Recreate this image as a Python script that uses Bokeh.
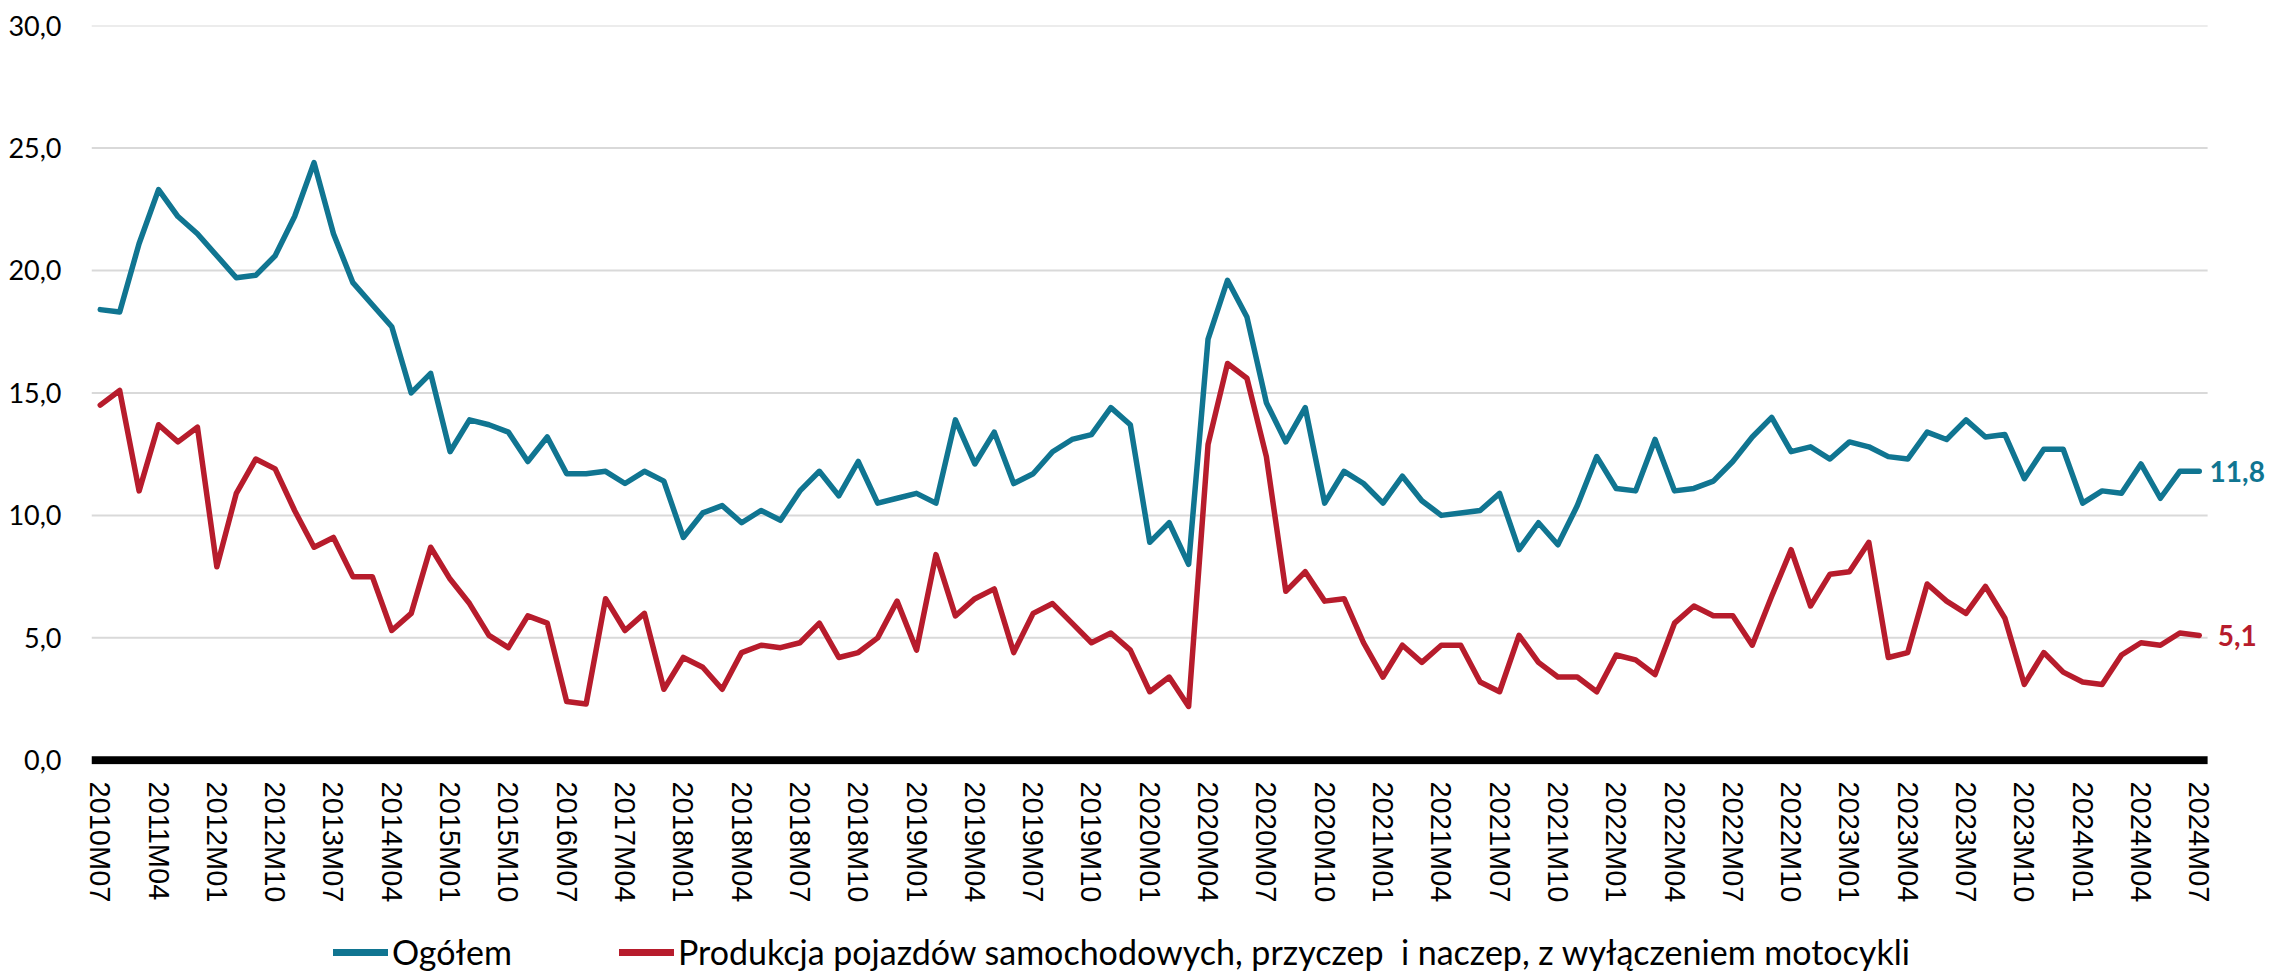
from bokeh.plotting import figure
from bokeh.layouts import column
from bokeh.models import Range1d, FixedTicker, Legend, LegendItem, ColumnDataSource
from bokeh.embed import file_html
from bokeh.resources import INLINE

# ---- data -------------------------------------------------------------
quarterly_periods = [f"{y}M{m:02d}" for y in range(2010, 2018) for m in (1, 4, 7, 10)
                     if not (y == 2010 and m < 7)]
monthly_periods = [f"{y}M{m:02d}" for y in range(2018, 2025) for m in range(1, 13)
                   if not (y == 2024 and m > 7)]
periods = quarterly_periods + monthly_periods

ogolem = [
    18.4, 18.3, 21.1, 23.3, 22.2, 21.5, 20.6, 19.7, 19.8, 20.6,
    22.2, 24.4, 21.5, 19.5, 18.6, 17.7, 15.0, 15.8, 12.6, 13.9,
    13.7, 13.4, 12.2, 13.2, 11.7, 11.7, 11.8, 11.3, 11.8, 11.4,
    9.1, 10.1, 10.4, 9.7, 10.2, 9.8, 11.0, 11.8, 10.8, 12.2,
    10.5, 10.7, 10.9, 10.5, 13.9, 12.1, 13.4, 11.3, 11.7, 12.6,
    13.1, 13.3, 14.4, 13.7, 8.9, 9.7, 8.0, 17.2, 19.6, 18.1,
    14.6, 13.0, 14.4, 10.5, 11.8, 11.3, 10.5, 11.6, 10.6, 10.0,
    10.1, 10.2, 10.9, 8.6, 9.7, 8.8, 10.4, 12.4, 11.1, 11.0,
    13.1, 11.0, 11.1, 11.4, 12.2, 13.2, 14.0, 12.6, 12.8, 12.3,
    13.0, 12.8, 12.4, 12.3, 13.4, 13.1, 13.9, 13.2, 13.3, 11.5,
    12.7, 12.7, 10.5, 11.0, 10.9, 12.1, 10.7, 11.8, 11.8,
]
pojazdy = [
    14.5, 15.1, 11.0, 13.7, 13.0, 13.6, 7.9, 10.9, 12.3, 11.9,
    10.2, 8.7, 9.1, 7.5, 7.5, 5.3, 6.0, 8.7, 7.4, 6.4,
    5.1, 4.6, 5.9, 5.6, 2.4, 2.3, 6.6, 5.3, 6.0, 2.9,
    4.2, 3.8, 2.9, 4.4, 4.7, 4.6, 4.8, 5.6, 4.2, 4.4,
    5.0, 6.5, 4.5, 8.4, 5.9, 6.6, 7.0, 4.4, 6.0, 6.4,
    5.6, 4.8, 5.2, 4.5, 2.8, 3.4, 2.2, 12.9, 16.2, 15.6,
    12.4, 6.9, 7.7, 6.5, 6.6, 4.8, 3.4, 4.7, 4.0, 4.7,
    4.7, 3.2, 2.8, 5.1, 4.0, 3.4, 3.4, 2.8, 4.3, 4.1,
    3.5, 5.6, 6.3, 5.9, 5.9, 4.7, 6.7, 8.6, 6.3, 7.6,
    7.7, 8.9, 4.2, 4.4, 7.2, 6.5, 6.0, 7.1, 5.8, 3.1,
    4.4, 3.6, 3.2, 3.1, 4.3, 4.8, 4.7, 5.2, 5.1,
]
series_names = ["Ogółem",
                "Produkcja pojazdów samochodowych, przyczep  i naczep, z wyłączeniem motocykli"]
y_ticks = [0, 5, 10, 15, 20, 25, 30]
y_tick_labels = ["0,0", "5,0", "10,0", "15,0", "20,0", "25,0", "30,0"]
x_tick_step = 3

BLUE = "#107591"
RED = "#B71C2C"

# ---- layout constants ---------------------------------------------------
n = len(periods)
X_LEFT = -0.45               # left edge of the plotting area (category units)
X_RIGHT = n - 1 + 0.43       # right edge of gridlines / zero line
X_END = n - 1 + 3.46         # extra room on the right for end labels
Y_BOTTOM = -0.17             # keeps the thick zero line un-clipped

idx = list(range(n))
src = ColumnDataSource(dict(x=idx, a=ogolem, b=pojazdy))

p = figure(frame_width=2175, frame_height=739, output_backend="svg", toolbar_location=None,
           x_range=Range1d(X_LEFT, X_END), y_range=Range1d(Y_BOTTOM, 30),
           min_border_left=91, min_border_right=0, min_border_top=25, min_border_bottom=140)
p.outline_line_color = None
p.background_fill_color = "white"
p.border_fill_color = "white"
p.xgrid.visible = False
p.ygrid.visible = False

# horizontal gridlines drawn only across the plotting area
p.segment(x0=[X_LEFT] * (len(y_ticks) - 1), x1=[X_RIGHT] * (len(y_ticks) - 1),
          y0=y_ticks[1:], y1=y_ticks[1:], line_color="#d9d9d9", line_width=2)
# thick zero line
p.segment(x0=[X_LEFT], x1=[X_RIGHT], y0=[0], y1=[0], line_color="black", line_width=8)

# y axis
p.yaxis.ticker = FixedTicker(ticks=y_ticks)
p.yaxis.major_label_overrides = {t: l for t, l in zip(y_ticks, y_tick_labels)}
p.yaxis.axis_line_color = None
p.yaxis.major_tick_line_color = None
p.yaxis.minor_tick_line_color = None
p.yaxis.major_tick_out = 0
p.yaxis.major_label_standoff = 30
p.yaxis.major_label_text_font = "Lato"
p.yaxis.major_label_text_font_size = "27px"
p.yaxis.major_label_text_color = "black"

# x axis
xt = idx[::x_tick_step]
p.xaxis.ticker = FixedTicker(ticks=xt)
p.xaxis.major_label_overrides = {i: periods[i] for i in xt}
p.xaxis.major_label_orientation = "vertical"
p.xaxis.axis_line_color = None
p.xaxis.major_tick_line_color = None
p.xaxis.minor_tick_line_color = None
p.xaxis.major_tick_out = 0
p.xaxis.major_tick_in = 0
p.xaxis.major_label_standoff = 17
p.xaxis.major_label_text_font = "Liberation Sans"
p.xaxis.major_label_text_font_size = "29px"
p.xaxis.major_label_text_color = "black"

p.line("x", "a", source=src, line_color=BLUE, line_width=5.5,
       line_join="round", line_cap="round")
p.line("x", "b", source=src, line_color=RED, line_width=5.5,
       line_join="round", line_cap="round")

# end labels
end_src = ColumnDataSource(dict(
    x=[idx[-1], idx[-1]], y=[ogolem[-1], pojazdy[-1]],
    t=[f"{ogolem[-1]:.1f}".replace(".", ","), f"{pojazdy[-1]:.1f}".replace(".", ",")],
    c=[BLUE, RED]))
p.text("x", "y", text="t", source=end_src, x_offset=38, text_align="center",
       text_baseline="middle", text_font={"value": "Lato"}, text_font_style="bold",
       text_font_size="28px", text_color="c")

# ---- legend strip below the chart -----------------------------------------
leg = figure(width=2266, height=67, output_backend="svg", toolbar_location=None,
             x_range=Range1d(0, 1), y_range=Range1d(0, 1),
             x_axis_location=None, y_axis_location=None,
             min_border_left=0, min_border_right=0, min_border_top=0, min_border_bottom=0)
leg.outline_line_color = None
leg.grid.visible = False
nan = float("nan")
l1 = leg.line(x=[nan, nan], y=[nan, nan], line_color=BLUE, line_width=7, line_cap="round")
l2 = leg.line(x=[nan, nan], y=[nan, nan], line_color=RED, line_width=7, line_cap="round")
legend = Legend(items=[LegendItem(label=series_names[0], renderers=[l1]),
                       LegendItem(label=series_names[1], renderers=[l2])],
                orientation="horizontal", location=(242, 0), spacing=107,
                glyph_width=55, glyph_height=36, label_height=36, label_standoff=4,
                padding=0, margin=0, border_line_color=None, background_fill_alpha=0,
                label_text_font="Lato", label_text_font_size="34px",
                label_text_color="black")
leg.add_layout(legend)

open("out.html", "w").write(file_html(column(p, leg), INLINE))
